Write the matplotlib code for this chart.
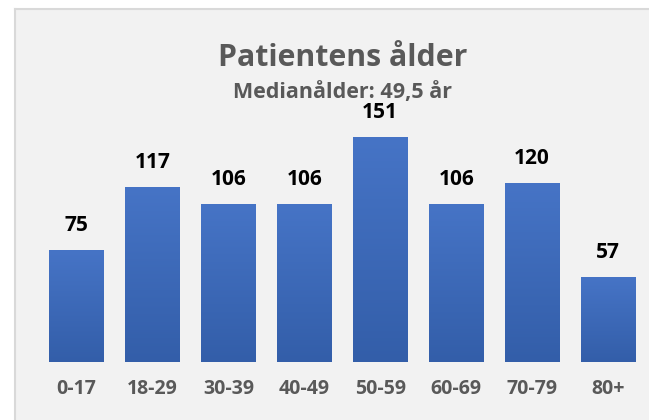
import matplotlib
matplotlib.use("Agg")
import matplotlib.pyplot as plt
import numpy as np
from matplotlib.patches import Rectangle
from matplotlib.lines import Line2D
from matplotlib.colors import LinearSegmentedColormap

categories = ["0-17", "18-29", "30-39", "40-49", "50-59", "60-69", "70-79", "80+"]
values = [75, 117, 106, 106, 151, 106, 120, 57]
title = "Patientens ålder"
subtitle = "Medianålder: 49,5 år"

plt.rcParams['font.family'] = ['Open Sans', 'DejaVu Sans']

W, H = 649, 420
fig = plt.figure(figsize=(W / 100, H / 100), dpi=100, facecolor='white')

# panel background
px0, py_top = 15, 9
fig.patches.append(Rectangle((px0 / W, 0), 1 - px0 / W, (H - py_top) / H,
                             transform=fig.transFigure, facecolor='#f2f2f2',
                             edgecolor='none', zorder=-10))
fig.lines.append(Line2D([px0 / W, 1], [(H - py_top) / H] * 2, transform=fig.transFigure,
                        color='#d9d9d9', lw=1.5))
fig.lines.append(Line2D([px0 / W] * 2, [0, (H - py_top) / H], transform=fig.transFigure,
                        color='#d9d9d9', lw=1.5))

ax_left, ax_right = 38.5, 646
ax_bottom_px, ymax = 362, 160
scale = (362 - 137) / 151
ax_h = ymax * scale
ax = fig.add_axes([ax_left / W, (H - ax_bottom_px) / H, (ax_right - ax_left) / W, ax_h / H])
ax.set_facecolor('none')

x = np.arange(len(categories))
bars = ax.bar(x, values, width=0.72, color='none', edgecolor='none')

grad = np.linspace(0, 1, 256).reshape(-1, 1)
cmap = LinearSegmentedColormap.from_list('g', ['#4674c6', '#335ea9'])
for b in bars:
    ax.imshow(grad, extent=[b.get_x(), b.get_x() + b.get_width(), 0, b.get_height()],
              cmap=cmap, aspect='auto', origin='upper', zorder=2)
ax.set_xlim(-0.5, len(categories) - 0.5)
ax.set_ylim(0, ymax)

for b, v in zip(bars, values):
    ax.annotate(str(v), (b.get_x() + b.get_width() / 2, b.get_height()),
                xytext=(0, 14), textcoords='offset points', ha='center', va='baseline',
                fontsize=15, fontweight='bold', color='black')

for s in ax.spines.values():
    s.set_visible(False)
ax.set_yticks([])
ax.set_xticks(x)
ax.set_xticklabels(categories, fontsize=14, fontweight='bold', color='#595959')
ax.tick_params(axis='x', length=0, pad=12)

cx = (ax_left + ax_right) / 2 / W
fig.text(cx, (H - 66) / H, title, ha='center', va='baseline', fontsize=21.8,
         fontweight='bold', color='#595959')
fig.text(cx, (H - 98) / H, subtitle, ha='center', va='baseline', fontsize=15.5,
         fontweight='bold', color='#595959')

fig.savefig('out.png', dpi=100, facecolor='white')
